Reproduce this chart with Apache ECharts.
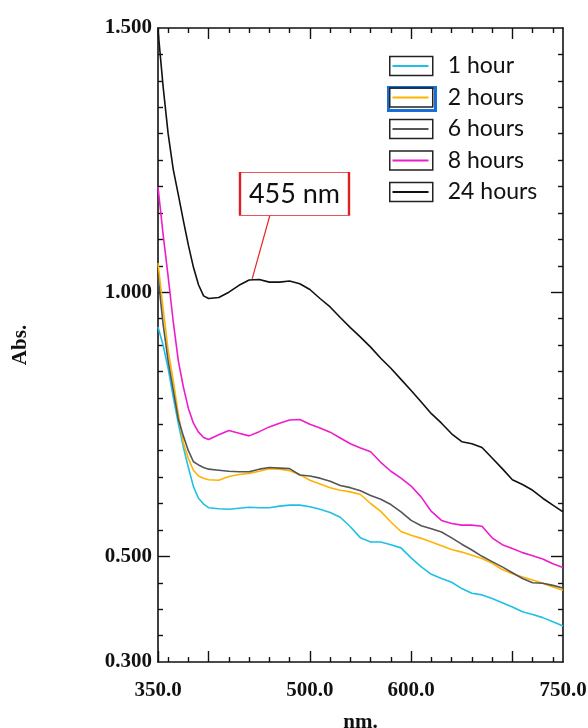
<!DOCTYPE html>
<html><head><meta charset="utf-8">
<script src="https://cdn.jsdelivr.net/npm/echarts@6/dist/echarts.min.js"></script>
<style>html,body{margin:0;padding:0;background:#fff}#c{width:588px;height:728px}</style>
</head><body><div id="c"></div>
<script>
const wavelengths = [350,355,360,365,370,375,380,385,390,395,400,410,420,430,440,450,460,470,480,490,500,510,520,530,540,550,560,570,580,590,600,610,620,630,640,650,660,670,680,690,700,710,720,730,740,750];
const abs1h  = [0.934,0.900,0.856,0.802,0.752,0.707,0.668,0.632,0.610,0.599,0.592,0.590,0.589,0.591,0.593,0.592,0.592,0.595,0.597,0.597,0.594,0.589,0.583,0.574,0.556,0.535,0.527,0.527,0.522,0.516,0.497,0.480,0.466,0.458,0.451,0.439,0.430,0.427,0.420,0.412,0.404,0.395,0.390,0.384,0.376,0.368];
const abs2h  = [1.055,0.970,0.890,0.833,0.770,0.715,0.685,0.663,0.652,0.648,0.645,0.644,0.651,0.655,0.657,0.661,0.666,0.665,0.662,0.655,0.644,0.637,0.630,0.625,0.622,0.617,0.600,0.585,0.565,0.547,0.540,0.534,0.527,0.520,0.513,0.508,0.502,0.496,0.487,0.475,0.467,0.461,0.455,0.449,0.442,0.436];
const abs6h  = [1.030,0.940,0.870,0.815,0.760,0.728,0.700,0.679,0.673,0.668,0.665,0.663,0.661,0.660,0.660,0.665,0.668,0.667,0.666,0.654,0.652,0.648,0.642,0.634,0.630,0.624,0.615,0.608,0.598,0.584,0.568,0.558,0.552,0.546,0.535,0.523,0.512,0.500,0.490,0.480,0.469,0.458,0.450,0.449,0.445,0.440];
const abs8h  = [1.199,1.110,1.030,0.945,0.871,0.821,0.780,0.752,0.735,0.725,0.721,0.730,0.738,0.733,0.728,0.736,0.745,0.752,0.758,0.759,0.750,0.743,0.735,0.724,0.713,0.705,0.698,0.678,0.661,0.648,0.633,0.612,0.585,0.568,0.562,0.559,0.559,0.557,0.535,0.522,0.515,0.507,0.501,0.495,0.486,0.479];
const abs24h = [1.496,1.390,1.300,1.233,1.185,1.136,1.089,1.047,1.014,0.993,0.988,0.990,1.000,1.013,1.023,1.024,1.019,1.019,1.021,1.016,1.005,0.988,0.972,0.952,0.933,0.915,0.896,0.875,0.856,0.835,0.814,0.792,0.770,0.752,0.732,0.717,0.713,0.706,0.686,0.666,0.645,0.636,0.625,0.610,0.597,0.584];

const seriesNames = ['1 hour','2 hours','6 hours','8 hours','24 hours'];
const seriesColors = ['#1ec0e6','#ffb300','#555555','#ee1ccc','#111111'];
const seriesValues = [abs1h, abs2h, abs6h, abs8h, abs24h];

const xLabelValues = [350,500,600,750];
const xMajorTicks = [350,400,500,600,700];
const xMinorTicks = [360,380,420,440,460,480,520,540,560,580,620,640,660,680,720,740];
const yLabelValues = [0.3,0.5,1.0,1.5];
const yMajorTicks = [0.5,1.0];
const yMinorTicks = [0.35,0.4,0.45,0.55,0.6,0.65,0.7,0.75,0.8,0.85,0.9,0.95,1.05,1.1,1.15,1.2,1.25,1.3,1.35,1.4,1.45];

const annoText = '455 nm';
const annoBoxCenter = [484.8, 1.186];
const annoLineFrom = [443, 1.025];
const annoLineTo = [460.6, 1.146];

const serifBold = {fontFamily:'Liberation Serif', fontWeight:'bold', fontSize:21, color:'#111'};
const axisLineStyle = {show:true, onZero:false, lineStyle:{color:'#111', width:1.6}};

function xAx(pos, ticks, len, withLabel, showLine) {
  return {
    type:'value', min:350, max:750, position:pos,
    axisLine: showLine ? axisLineStyle : {show:false},
    axisTick:{show:true, inside:true, length:len, customValues:ticks, lineStyle:{color:'#111', width:1.4}},
    axisLabel: withLabel ? Object.assign({show:true, customValues:xLabelValues, margin:18, showMinLabel:true, showMaxLabel:true,
      formatter:v => v.toFixed(1)}, serifBold) : {show:false},
    splitLine:{show:false},
    name: withLabel ? 'nm.' : '', nameLocation:'middle', nameGap:50,
    nameTextStyle: serifBold
  };
}
function yAx(pos, ticks, len, withLabel, showLine) {
  return {
    type:'value', min:0.3, max:1.5, position:pos,
    axisLine: showLine ? axisLineStyle : {show:false},
    axisTick:{show:true, inside:true, length:len, customValues:ticks, lineStyle:{color:'#111', width:1.4}},
    axisLabel: withLabel ? Object.assign({show:true, customValues:yLabelValues, margin:6, showMinLabel:true, showMaxLabel:true,
      formatter:v => v.toFixed(3)}, serifBold) : {show:false},
    splitLine:{show:false},
    name: withLabel ? 'Abs.' : '', nameLocation:'middle', nameGap:127, nameRotate:90,
    nameTextStyle: serifBold
  };
}

const series = seriesNames.map((name, i) => {
  const s = {
    name, type:'line', xAxisIndex:0, yAxisIndex:0, symbol:'none', silent:true,
    lineStyle:{color:seriesColors[i], width:1.6}, itemStyle:{color:seriesColors[i]},
    data: wavelengths.map((w, k) => [w, seriesValues[i][k]])
  };
  if (name === '24 hours') {
    s.markLine = {
      silent:true, symbol:'none', label:{show:false},
      lineStyle:{color:'#ee2222', width:1.2, type:'solid'},
      data:[[{coord:annoLineFrom}, {coord:annoLineTo}]]
    };
    s.markPoint = {
      silent:true,
      data:[{coord:annoBoxCenter, symbol:'rect', symbolSize:[109,43],
        itemStyle:{color:'#fff', borderColor:'#e02020', borderWidth:1.5},
        label:{show:true, position:'inside', formatter:annoText, color:'#111', fontFamily:'Lato', fontSize:27}}]
    };
  }
  return s;
});

const legendText = {fontFamily:'Lato', fontSize:23, lineHeight:19, padding:[0,0,0,10]};
const legendBase = {orient:'vertical', selectedMode:false, padding:0, top:54.5, itemGap:8.5};
const chart = echarts.init(document.getElementById('c'), null, {renderer:'canvas'});
chart.setOption({
  animation:false,
  backgroundColor:'#fff',
  grid:{left:158, right:25, top:28, bottom:66, containLabel:false, outerBoundsMode:'none'},
  xAxis:[
    xAx('bottom', xMajorTicks, 11, true, true),
    xAx('bottom', xMinorTicks, 5, false, false),
    xAx('top', xMajorTicks, 11, false, true),
    xAx('top', xMinorTicks, 5, false, false)
  ],
  yAxis:[
    yAx('left', yMajorTicks, 12, true, true),
    yAx('left', yMinorTicks, 5, false, false),
    yAx('right', yMajorTicks, 12, false, true),
    yAx('right', yMinorTicks, 5, false, false)
  ],
  legend:[
    Object.assign({}, legendBase, {
      left:387, itemWidth:47, itemHeight:23, icon:'rect',
      data: seriesNames.map(n => n === '2 hours'
        ? {name:n, itemStyle:{color:'transparent', borderColor:'#1a6fd6', borderWidth:3}}
        : {name:n, itemStyle:{color:'transparent', borderColor:'transparent', borderWidth:0}}),
      textStyle:Object.assign({}, legendText, {color:'transparent'})
    }),
    Object.assign({}, legendBase, {
      left:389, itemWidth:43, itemHeight:19, icon:'rect', data:seriesNames,
      itemStyle:{color:'transparent', borderColor:'#222', borderWidth:1.5},
      textStyle:Object.assign({}, legendText, {color:'#111'})
    }),
    Object.assign({}, legendBase, {
      left:392.5, itemWidth:36, itemHeight:19, data:seriesNames,
      icon:'path://M0,0L36,0L36,2L0,2Z',
      textStyle:Object.assign({}, legendText, {color:'transparent'})
    })
  ],
  series
});
</script>
</body></html>
